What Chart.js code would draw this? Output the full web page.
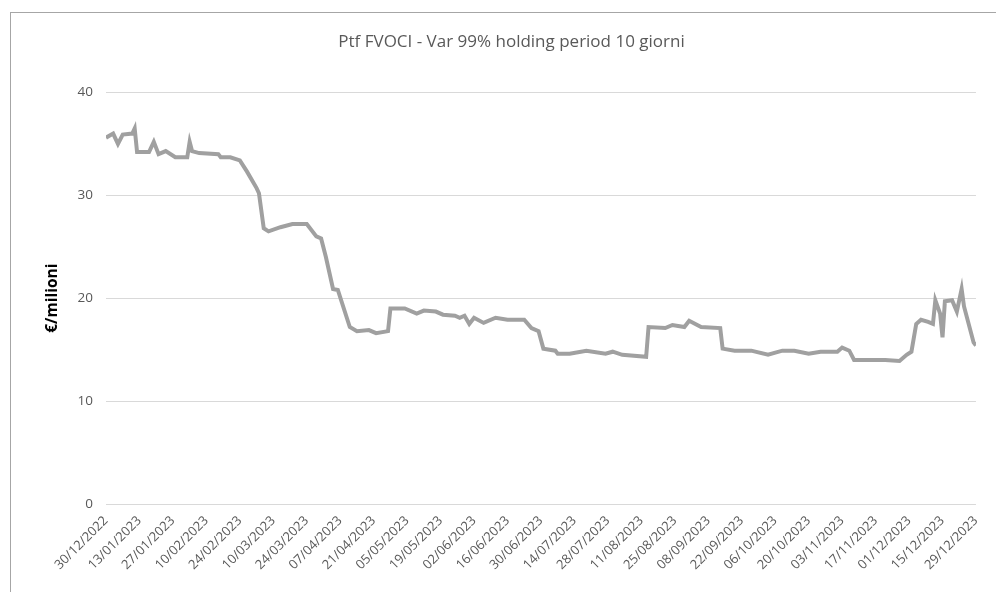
<!DOCTYPE html>
<html>
<head>
<meta charset="utf-8">
<title>Ptf FVOCI - Var 99%</title>
<script src="https://cdn.jsdelivr.net/npm/chart.js@4/dist/chart.umd.min.js"></script>
<style>
  html, body { margin: 0; padding: 0; background: #fff; overflow: hidden; }
  #wrap { position: relative; width: 996px; height: 592px; }
  #frame {
    position: absolute; left: 10px; top: 12px; width: 1000px; height: 600px;
    border: 1px solid #a6a6a6; box-sizing: border-box;
  }
  canvas { position: absolute; left: 0; top: 0; }
</style>
</head>
<body>
<div id="wrap">
  <div id="frame"></div>
  <canvas id="chart" width="996" height="592"></canvas>
</div>
<script>
'use strict'

// day offsets from 30/12/2022 and the VaR value (€ milioni) read at each one
const days = [
  0, 3, 5, 7, 11, 12, 13, 18, 20, 22, 25, 29, 34, 35, 36, 39, 47, 48, 52, 56,
  59, 63, 64, 66, 68, 73, 78, 84, 88, 90, 92, 95, 97, 102, 105, 110, 113, 118, 119, 125,
  130, 133, 138, 141, 146, 148, 150, 152, 154, 158, 163, 168, 175, 178, 181, 183, 188, 189, 194, 201,
  209, 212, 216, 226, 227, 234, 237, 242, 244, 249, 257, 258, 263, 270, 277, 283, 288, 294, 299, 306,
  308, 311, 313, 319, 326, 332, 335, 337, 339, 341, 344, 346, 347, 349, 350, 351, 354, 356, 358, 359,
  363, 364
]
const values = [
  35.6, 36.0, 35.0, 35.9, 36.0, 36.5, 34.2, 34.2, 35.2, 34.0, 34.3, 33.7, 33.7, 35.2, 34.3, 34.1, 34.0, 33.7, 33.7, 33.4,
  32.3, 30.7, 30.2, 26.8, 26.5, 26.9, 27.2, 27.2, 26.0, 25.8, 24.0, 20.9, 20.8, 17.2, 16.8, 16.9, 16.6, 16.8, 19.0, 19.0,
  18.5, 18.8, 18.7, 18.4, 18.3, 18.1, 18.3, 17.5, 18.1, 17.6, 18.1, 17.9, 17.9, 17.1, 16.8, 15.1, 14.9, 14.6, 14.6, 14.9,
  14.6, 14.8, 14.5, 14.3, 17.2, 17.1, 17.4, 17.2, 17.8, 17.2, 17.1, 15.1, 14.9, 14.9, 14.5, 14.9, 14.9, 14.6, 14.8, 14.8,
  15.2, 14.9, 14.0, 14.0, 14.0, 13.9, 14.5, 14.8, 17.5, 17.9, 17.7, 17.5, 19.8, 18.5, 16.2, 19.7, 19.8, 18.7, 20.9, 19.2,
  15.7, 15.4
]

// axis setup
const startDate = Date.UTC(2022, 11, 30)
const lastDay = 364
const tickStep = 14
const yTicks = [0, 10, 20, 30, 40]

const chartTitle = 'Ptf FVOCI - Var 99% holding period 10 giorni'
const yTitle = '€/milioni'

const textColor = '#595959'
const lineColor = '#a0a0a0'
const gridColor = '#d9d9d9'

function dayLabel(offset) {
  const d = new Date(startDate + offset * 86400000)
  const dd = String(d.getUTCDate()).padStart(2, '0')
  const mm = String(d.getUTCMonth() + 1).padStart(2, '0')
  return `${dd}/${mm}/${d.getUTCFullYear()}`
}

// the original frame is wider than the picture, so its title sits a bit right of centre
const titleShift = {
  id: 'titleShift',
  afterLayout(chart) {
    const t = chart.titleBlock
    if (t) t.left += 35
  }
}

const points = days.map((d, i) => ({ x: d, y: values[i] }))

const ctx = document.getElementById('chart')
const chart = new Chart(ctx, {
  type: 'line',
  data: {
    datasets: [{
      label: 'VaR',
      data: points,
      borderColor: lineColor,
      borderWidth: 4,
      pointRadius: 0,
      tension: 0,
      fill: false
    }]
  },
  plugins: [titleShift],
  options: {
    responsive: false,
    animation: false,
    layout: { padding: { left: 10, right: 18, top: 0, bottom: 0 } },
    plugins: {
      legend: { display: false },
      tooltip: { enabled: false },
      title: {
        display: true,
        text: chartTitle,
        color: textColor,
        font: { family: 'Open Sans', size: 17, weight: 'normal' },
        padding: { top: 32, bottom: 40 }
      }
    },
    scales: {
      x: {
        type: 'linear',
        min: 0,
        max: lastDay,
        grid: { display: false, drawTicks: false },
        border: { display: false },
        afterFit: scale => { scale.height = 88 },
        ticks: {
          stepSize: tickStep,
          autoSkip: false,
          minRotation: 45,
          maxRotation: 45,
          padding: 9,
          color: textColor,
          font: { family: 'Open Sans', size: 13 },
          callback: value => dayLabel(value)
        }
      },
      y: {
        min: 0,
        max: 40,
        afterFit: scale => { scale.width = 96 },
        afterBuildTicks: scale => { scale.ticks = yTicks.map(v => ({ value: v })) },
        grid: { color: gridColor, lineWidth: 1, drawTicks: false },
        border: { display: false },
        ticks: {
          padding: 13,
          color: textColor,
          font: { family: 'Open Sans', size: 13.5 }
        },
        title: {
          display: true,
          text: yTitle,
          color: '#000',
          font: { family: 'Open Sans', size: 15.5, weight: 'bold' },
          padding: { top: 33, bottom: 0 }
        }
      }
    }
  }
})

console.log(chart.chartArea)
</script>
</body>
</html>
